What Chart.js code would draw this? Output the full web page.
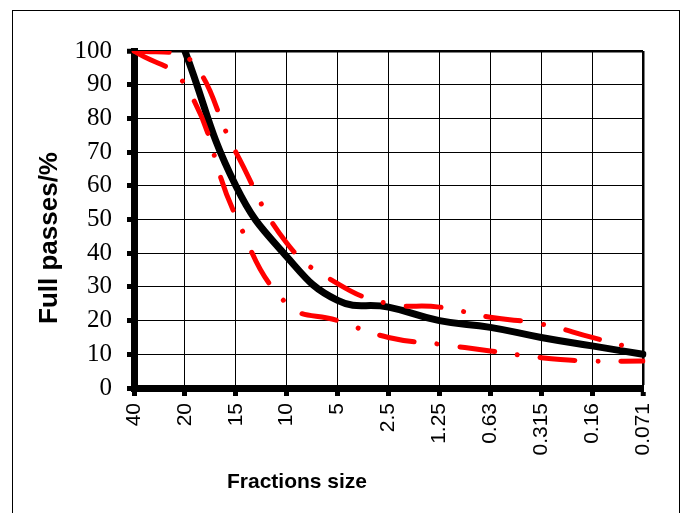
<!DOCTYPE html>
<html>
<head>
<meta charset="utf-8">
<script src="https://cdn.jsdelivr.net/npm/chart.js@4.4.1/dist/chart.umd.min.js"></script>
<style>
  html, body { margin: 0; padding: 0; background: #fff; }
  #wrap { position: relative; width: 686px; height: 513px; }
</style>
</head>
<body>
<div id="wrap"><canvas id="gradingChart" width="686" height="513"></canvas></div>
<script>
// sieve sizes (mm) on the x axis
const sizes = ['40', '20', '15', '10', '5', '2.5', '1.25', '0.63', '0.315', '0.16', '0.071'];
// passing percentages
const actualPasses = [null, 100, 60, 39, 26, 24, 20, 18, 15, 12.5, 10];
const upperLimit = [100, 99, 70, 43, 31, 25, 24, 21, 19, 15, 11];
const lowerLimit = [100, 90, 51, 25, 20, 15, 13, 11, 9, 8, 8];
const yTickValues = [0, 10, 20, 30, 40, 50, 60, 70, 80, 90, 100];

const xTitle = 'Fractions size';
const yTitle = 'Full passes/%';

// frame + axis titles drawn by hand so they sit where the original has them
const frameAndTitles = {
    id: 'frameAndTitles',
    beforeDraw(chart) {
        const ctx = chart.ctx;
        ctx.save();
        ctx.strokeStyle = '#000';
        ctx.lineWidth = 1;
        ctx.strokeRect(12.5, 10.5, 667, 600);
        ctx.restore();
    },
    afterDraw(chart) {
        const ctx = chart.ctx;
        ctx.save();
        ctx.fillStyle = '#000';
        ctx.font = 'bold 21px "Liberation Sans", Arial, sans-serif';
        ctx.textAlign = 'center';
        ctx.textBaseline = 'alphabetic';
        ctx.fillText(xTitle, 297, 488);

        ctx.translate(57, 238);
        ctx.rotate(-Math.PI / 2);
        ctx.font = 'bold 26px "Liberation Sans", Arial, sans-serif';
        ctx.fillText(yTitle, 0, 0);
        ctx.restore();
    }
};

const redDash = [35, 23, 0.01, 23];

new Chart(document.getElementById('gradingChart'), {
    type: 'line',
    data: {
        labels: sizes,
        datasets: [
            {
                label: 'Upper limit',
                data: upperLimit,
                borderColor: '#ff0000',
                borderWidth: 5,
                borderDash: redDash,
                borderCapStyle: 'round',
                pointRadius: 0,
                tension: 0.45,
                fill: false
            },
            {
                label: 'Lower limit',
                data: lowerLimit,
                borderColor: '#ff0000',
                borderWidth: 5,
                borderDash: redDash,
                borderCapStyle: 'round',
                pointRadius: 0,
                tension: 0.45,
                fill: false
            },
            {
                label: 'Mix',
                data: actualPasses,
                borderColor: '#000',
                borderWidth: 7,
                borderCapStyle: 'round',
                pointRadius: 0,
                tension: 0.45,
                fill: false
            }
        ]
    },
    options: {
        responsive: false,
        animation: false,
        devicePixelRatio: 1,
        layout: { padding: { left: 0, top: 51, right: 43, bottom: 0 } },
        plugins: {
            legend: { display: false },
            tooltip: { enabled: false }
        },
        scales: {
            x: {
                offset: false,
                afterFit(scale) { scale.height = 125; },
                border: { display: true, color: '#000', width: 7 },
                grid: {
                    color: '#000',
                    lineWidth: ctx => (ctx.index === sizes.length - 1 ? 2.5 : 1),
                    drawTicks: true,
                    tickLength: 8,
                    tickWidth: 5,
                    tickColor: '#000'
                },
                ticks: {
                    autoSkip: false,
                    minRotation: 90,
                    maxRotation: 90,
                    padding: 7,
                    color: '#000',
                    font: { family: '"Liberation Sans", Arial, sans-serif', size: 21 }
                }
            },
            y: {
                min: 0,
                max: 100,
                afterFit(scale) { scale.width = 134; },
                afterBuildTicks(scale) {
                    scale.ticks = yTickValues.map(v => ({ value: v }));
                },
                border: { display: true, color: '#000', width: 7 },
                grid: {
                    color: '#000',
                    lineWidth: ctx => (ctx.tick && ctx.tick.value === 100 ? 2.5 : 1),
                    drawTicks: true,
                    tickLength: 7,
                    tickWidth: 5,
                    tickColor: '#000'
                },
                ticks: {
                    padding: 15,
                    color: '#000',
                    font: { family: '"Liberation Serif", "Times New Roman", serif', size: 25 }
                }
            }
        }
    },
    plugins: [frameAndTitles]
});
</script>
</body>
</html>
